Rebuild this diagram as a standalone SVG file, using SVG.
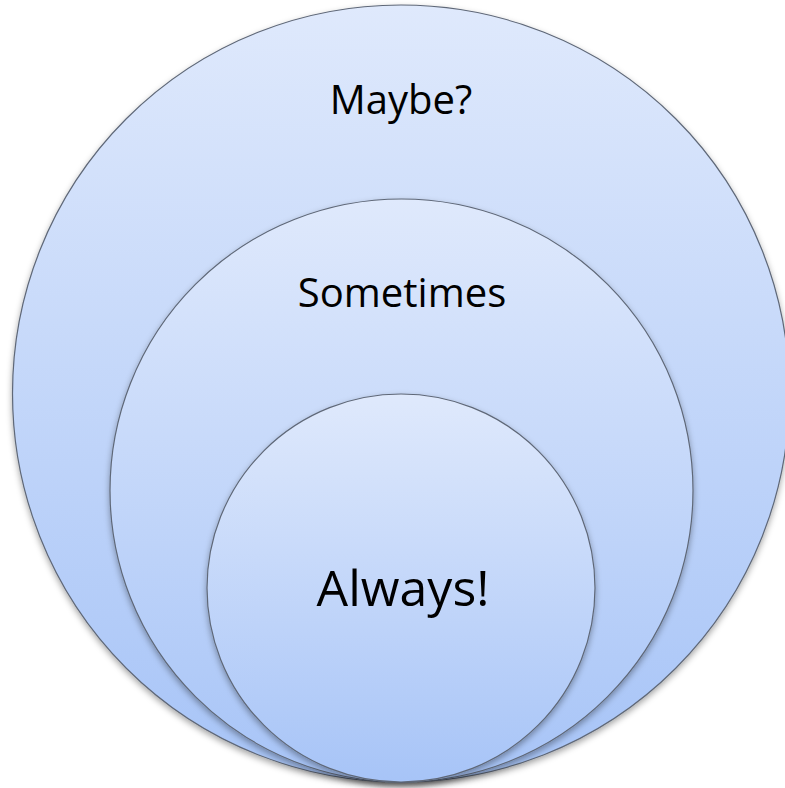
<svg xmlns="http://www.w3.org/2000/svg" width="785" height="788" viewBox="0 0 785 788">
<defs>
<linearGradient id="g" x1="0" y1="0" x2="0" y2="1">
<stop offset="0" stop-color="#dfe9fc"/>
<stop offset="1" stop-color="#a7c4f7"/>
</linearGradient>
<filter id="sh" x="-10%" y="-10%" width="120%" height="125%">
<feDropShadow dx="0" dy="3" stdDeviation="3" flood-color="#000" flood-opacity="0.35"/>
</filter>
</defs>
<style>
.c{fill:url(#g);stroke:#5f6878;stroke-width:1.2;filter:url(#sh)}
.t{font-family:"Open Sans","Liberation Sans",sans-serif;fill:#000;text-anchor:middle}
</style>
<rect width="785" height="788" fill="#fff"/>
<g id="maybe">
<circle class="c" cx="401" cy="393.5" r="388.5"/>
<text class="t" x="401" y="114" font-size="40">Maybe?</text>
</g>
<g id="sometimes">
<circle class="c" cx="401.5" cy="490.5" r="291.5"/>
<text class="t" x="402" y="307" font-size="40">Sometimes</text>
</g>
<g id="always">
<circle class="c" cx="401" cy="588" r="194"/>
<text class="t" x="403" y="606" font-size="50">Always!</text>
</g>
<g id="connectors"/>
</svg>
